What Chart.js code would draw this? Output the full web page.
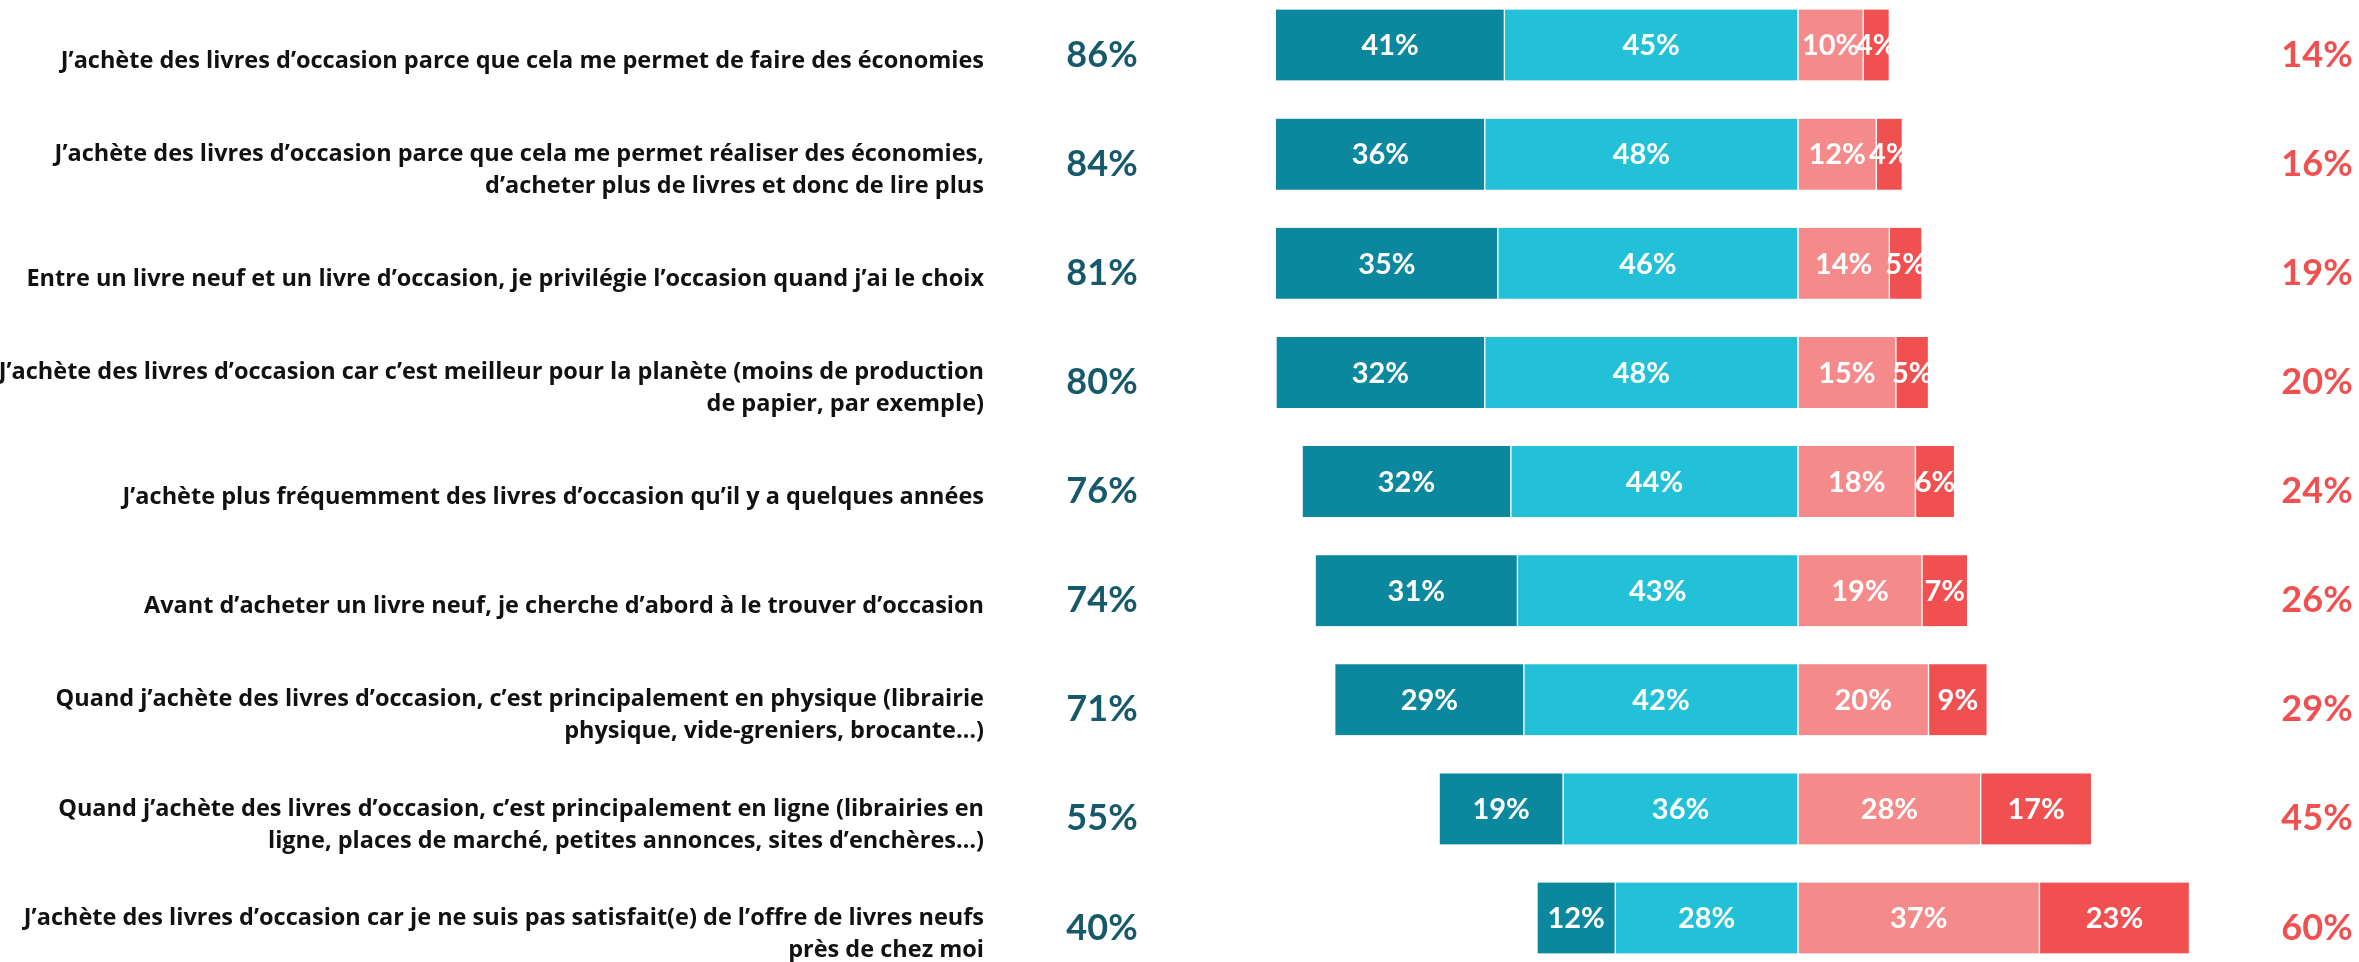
<!DOCTYPE html>
<html lang="fr">
<head>
<meta charset="utf-8">
<script src="https://cdn.jsdelivr.net/npm/chart.js@4.4.1/dist/chart.umd.min.js"></script>
<style>
  html, body { margin: 0; padding: 0; background: #fff; }
  #wrap { width: 2359px; height: 962px; position: relative; }
</style>
</head>
<body>
<div id="wrap"><canvas id="chart"></canvas></div>
<script>
// Agree/disagree diverging bars. Axis is cut at ±80, so the three longest
// agree bars are clipped on the left edge, same as the source picture.
const categories = [
  "J’achète des livres d’occasion parce que cela me permet de faire des économies",
  ["J’achète des livres d’occasion parce que cela me permet réaliser des économies,", "d’acheter plus de livres et donc de lire plus"],
  "Entre un livre neuf et un livre d’occasion, je privilégie l’occasion quand j’ai le choix",
  ["J’achète des livres d’occasion car c’est meilleur pour la planète (moins de production", "de papier, par exemple)"],
  "J’achète plus fréquemment des livres d’occasion qu’il y a quelques années",
  "Avant d’acheter un livre neuf, je cherche d’abord à le trouver d’occasion",
  ["Quand j’achète des livres d’occasion, c’est principalement en physique (librairie", "physique, vide-greniers, brocante…)"],
  ["Quand j’achète des livres d’occasion, c’est principalement en ligne (librairies en", "ligne, places de marché, petites annonces, sites d’enchères…)"],
  ["J’achète des livres d’occasion car je ne suis pas satisfait(e) de l’offre de livres neufs", "près de chez moi"],
];
const toutAFait  = [41, 36, 35, 32, 32, 31, 29, 19, 12];
const plutot     = [45, 48, 46, 48, 44, 43, 42, 36, 28];
const plutotPas  = [10, 12, 14, 15, 18, 19, 20, 28, 37];
const pasDuTout  = [4, 4, 5, 5, 6, 7, 9, 17, 23];
const agreeTotals    = [86, 84, 81, 80, 76, 74, 71, 55, 40];
const disagreeTotals = [14, 16, 19, 20, 24, 26, 29, 45, 60];

const DARK = "#0b879e", CYAN = "#23c1d8", PINK = "#f58a8a", RED = "#f05050";
const TEAL_TXT = "#16596a", FONT = "Lato, 'Open Sans', sans-serif";
const LABEL_FONT = "'Open Sans', Lato, sans-serif";

const neg = (arr) => arr.map(v => -v);   // agree side drawn left of zero

function barSet(label, data, color) {
  return {
    label, data, backgroundColor: color,
    borderColor: "#fff", borderWidth: { left: 1, right: 1, top: 0, bottom: 0 }, borderSkipped: false,
    barThickness: 71,
    clip: { left: 0, right: false, top: false, bottom: false },
  };
}

// white values inside the segments + the two total columns
const labelsPlugin = {
  id: "labels",
  afterDatasetsDraw(chart) {
    const { ctx, chartArea } = chart;
    ctx.save();
    ctx.textAlign = "center";
    ctx.textBaseline = "middle";
    ctx.font = "bold 29px " + FONT;
    ctx.fillStyle = "#fff";
    chart.data.datasets.forEach((ds, di) => {
      chart.getDatasetMeta(di).data.forEach((bar, i) => {
        const l = Math.max(Math.min(bar.x, bar.base), chartArea.left);
        const r = Math.min(Math.max(bar.x, bar.base), chartArea.right);
        ctx.fillText(Math.abs(ds.data[i]) + "%", (l + r) / 2, bar.y + 1);
      });
    });
    const y = chart.scales.y;
    ctx.font = "bold 36px " + FONT;
    agreeTotals.forEach((v, i) => {
      ctx.fillStyle = TEAL_TXT;
      ctx.fillText(v + "%", chartArea.left - 174, y.getPixelForValue(i) + 10);
    });
    disagreeTotals.forEach((v, i) => {
      ctx.fillStyle = RED;
      ctx.fillText(v + "%", chartArea.right - 3, y.getPixelForValue(i) + 10);
    });
    ctx.restore();
  },
};

new Chart(document.getElementById("chart"), {
  type: "bar",
  data: {
    labels: categories,
    datasets: [
      barSet("Plutôt d’accord", neg(plutot), CYAN),
      barSet("Tout à fait d’accord", neg(toutAFait), DARK),
      barSet("Plutôt pas d’accord", plutotPas, PINK),
      barSet("Pas du tout d’accord", pasDuTout, RED),
    ],
  },
  options: {
    indexAxis: "y",
    animation: false, responsive: true, maintainAspectRatio: false,
    layout: { padding: { left: 0, right: 39, top: 45, bottom: 44 } },
    scales: {
      x: { display: false, stacked: true, min: -80, max: 80 },
      y: {
        stacked: true, offset: false,
        grid: { display: false }, border: { display: false },
        ticks: {
          autoSkip: false, padding: 284, labelOffset: 16,
          color: "#111", font: { family: LABEL_FONT, size: 23.5, weight: "bold", lineHeight: 1.36 },
        },
        // big tick padding also pads top/bottom of a vertical axis; undo that
        afterFit(scale) { scale.width = 1276; scale.paddingTop = 0; scale.paddingBottom = 0; },
      },
    },
    plugins: { legend: { display: false }, tooltip: { enabled: false } },
  },
  plugins: [labelsPlugin],
});
</script>
</body>
</html>
